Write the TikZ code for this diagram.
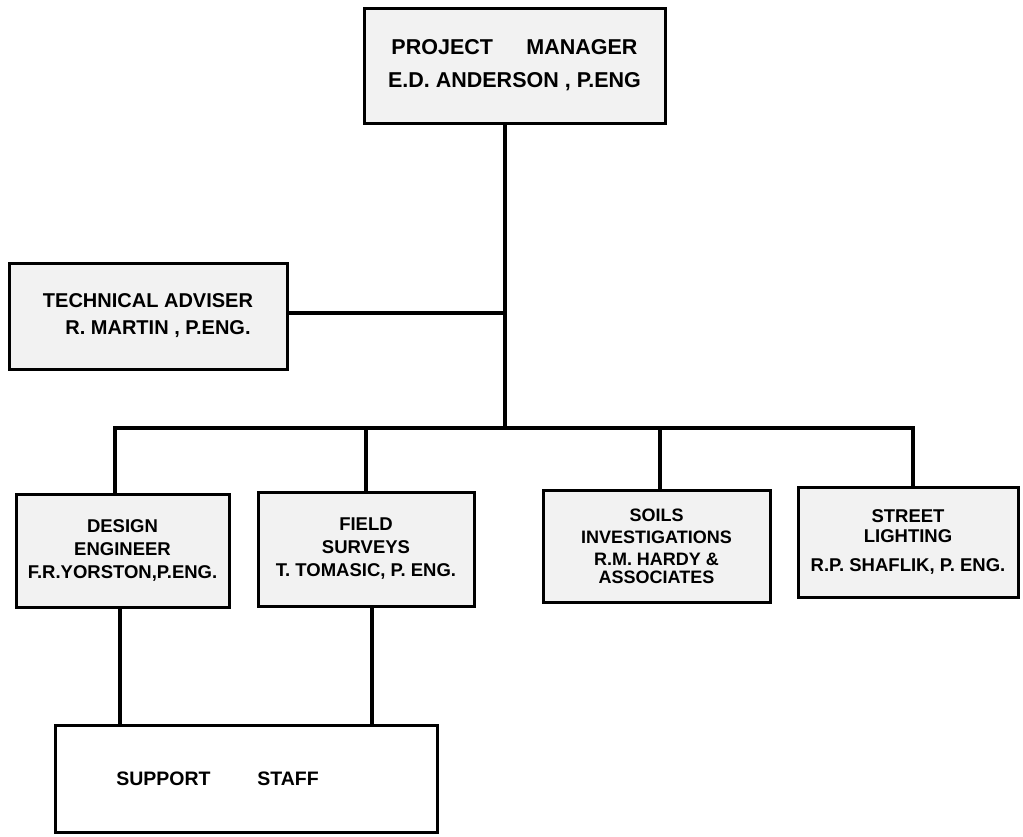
\documentclass[tikz,border=0pt]{standalone}
\usepackage{fontspec}
\setmainfont{Liberation Sans}
\begin{document}
\begin{tikzpicture}[x=1pt,y=-1pt,
  box/.style={draw=black, line width=3pt, fill=black!5, rectangle, inner sep=0pt, align=center,
    font=\bfseries\fontsize{18.5}{23}\selectfont},
  link/.style={line width=3.5pt}]
\useasboundingbox (0,0) rectangle (1023,836);
\node[box, minimum width=301, minimum height=115, font=\bfseries\fontsize{21.5}{33}\selectfont] (pm) at (514.5,65.5)
  {PROJECT\quad\ \ MANAGER\\E.D.\ ANDERSON , P.ENG};
\node[box, minimum width=278, minimum height=106, font=\bfseries\fontsize{20}{27}\selectfont] (tech) at (148,316)
  {TECHNICAL ADVISER\\\hspace*{1em}R. MARTIN , P.ENG.};
\node[box, minimum width=213, minimum height=113] (design) at (122.5,550.5)
  {DESIGN\\ENGINEER\\F.R.YORSTON,P.ENG.};
\node[box, minimum width=216, minimum height=114] (field) at (366,549)
  {FIELD\\SURVEYS\\T. TOMASIC, P. ENG.};
\node[box, minimum width=227, minimum height=112, font=\bfseries\fontsize{18}{22}\selectfont] (soils) at (656.5,546)
  {SOILS\\INVESTIGATIONS\\R.M. HARDY \&\\[-4pt]ASSOCIATES};
\node[box, minimum width=220, minimum height=110, font=\bfseries\fontsize{18.5}{20}\selectfont] (street) at (908,542)
  {STREET\\LIGHTING\\[9pt]R.P. SHAFLIK, P. ENG.};
\node[box, minimum width=382, minimum height=107, fill=white, font=\bfseries\fontsize{19.5}{21}\selectfont] (support) at (246,778.5)
  {SUPPORT\hspace{2.4em}STAFF\hspace{57pt}};
\coordinate (t) at (505,428);
\coordinate (ta) at (505,313);
\coordinate (bl) at (115,428);
\coordinate (br) at (913,428);
\coordinate (s1) at (120,660);
\coordinate (s2) at (372,660);
\draw[link] (pm.south -| t) -- (t);
\draw[link] (tech.east |- ta) -- (ta);
\draw[link] (design.north -| bl) -- (bl) -- (br) -- (street.north -| br);
\draw[link] (field.north) -- (field.north |- t);
\draw[link] (soils.north -| 660,0) -- (660,428);
\draw[link] (design.south -| s1) -- (support.north -| s1);
\draw[link] (field.south -| s2) -- (support.north -| s2);
\end{tikzpicture}
\end{document}
